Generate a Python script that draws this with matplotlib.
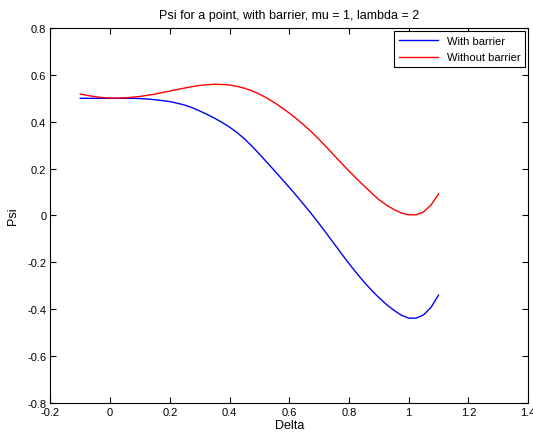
import matplotlib
matplotlib.use("Agg")
import matplotlib.pyplot as plt

plt.rcParams["font.family"] = ["Liberation Sans", "DejaVu Sans"]

# values
delta = [-0.100, -0.075, -0.050, -0.025, 0.000, 0.025, 0.050, 0.075, 0.100, 0.125,
         0.150, 0.175, 0.200, 0.225, 0.250, 0.275, 0.300, 0.325, 0.350, 0.375,
         0.400, 0.425, 0.450, 0.475, 0.500, 0.525, 0.550, 0.575, 0.600, 0.625,
         0.650, 0.675, 0.700, 0.725, 0.750, 0.775, 0.800, 0.825, 0.850, 0.875,
         0.900, 0.925, 0.950, 0.975, 1.000, 1.025, 1.050, 1.075, 1.100]
psi_with_barrier = [0.500, 0.500, 0.500, 0.500, 0.500, 0.500, 0.500, 0.500, 0.499, 0.497,
                    0.494, 0.490, 0.486, 0.479, 0.471, 0.460, 0.446, 0.431, 0.415, 0.397,
                    0.377, 0.354, 0.327, 0.296, 0.262, 0.227, 0.192, 0.156, 0.120, 0.083,
                    0.045, 0.006, -0.035, -0.077, -0.120, -0.163, -0.205, -0.245, -0.283,
                    -0.318, -0.350, -0.379, -0.404, -0.425, -0.438, -0.438, -0.424,
                    -0.392, -0.340]
psi_without_barrier = [0.518, 0.512, 0.507, 0.503, 0.501, 0.501, 0.502, 0.505, 0.508, 0.513,
                       0.518, 0.525, 0.531, 0.538, 0.544, 0.550, 0.555, 0.558, 0.560, 0.559,
                       0.557, 0.551, 0.543, 0.532, 0.518, 0.501, 0.482, 0.460, 0.437, 0.412,
                       0.385, 0.356, 0.325, 0.291, 0.257, 0.223, 0.190, 0.158, 0.127, 0.097,
                       0.068, 0.045, 0.026, 0.011, 0.003, 0.003, 0.015, 0.045, 0.092]

x_ticks = [-0.2, 0, 0.2, 0.4, 0.6, 0.8, 1, 1.2, 1.4]
x_tick_labels = ["-0.2", "0", "0.2", "0.4", "0.6", "0.8", "1", "1.2", "1.4"]
y_ticks = [-0.8, -0.6, -0.4, -0.2, 0, 0.2, 0.4, 0.6, 0.8]
y_tick_labels = ["-0.8", "-0.6", "-0.4", "-0.2", "0", "0.2", "0.4", "0.6", "0.8"]

fig = plt.figure(figsize=(5.33, 4.35), dpi=100)
ax = fig.add_axes([0.0947, 0.0713, 0.896, 0.862])

ax.plot(delta, psi_with_barrier, color="#0000ff", lw=1.0, label="With barrier")
ax.plot(delta, psi_without_barrier, color="#ff0000", lw=1.0, label="Without barrier")

ax.set_xlim(-0.2, 1.4)
ax.set_ylim(-0.8, 0.8)
ax.set_xticks(x_ticks, x_tick_labels)
ax.set_yticks(y_ticks, y_tick_labels)
ax.tick_params(direction="in", top=True, right=True, length=4, width=0.8,
               labelsize=8, pad=3)
for s in ax.spines.values():
    s.set_linewidth(0.8)

ax.set_title("Psi for a point, with barrier, mu = 1, lambda = 2", fontsize=9, pad=7)
ax.set_xlabel("Delta", fontsize=9, labelpad=1)
ax.set_ylabel("Psi", fontsize=9, labelpad=6)

leg = ax.legend(loc="upper right", fontsize=8, fancybox=False, framealpha=1,
                edgecolor="black", borderaxespad=0.25, handlelength=3.5,
                borderpad=0.45, labelspacing=0.6)
leg.get_frame().set_linewidth(0.8)

fig.savefig("out.png", dpi=100)
